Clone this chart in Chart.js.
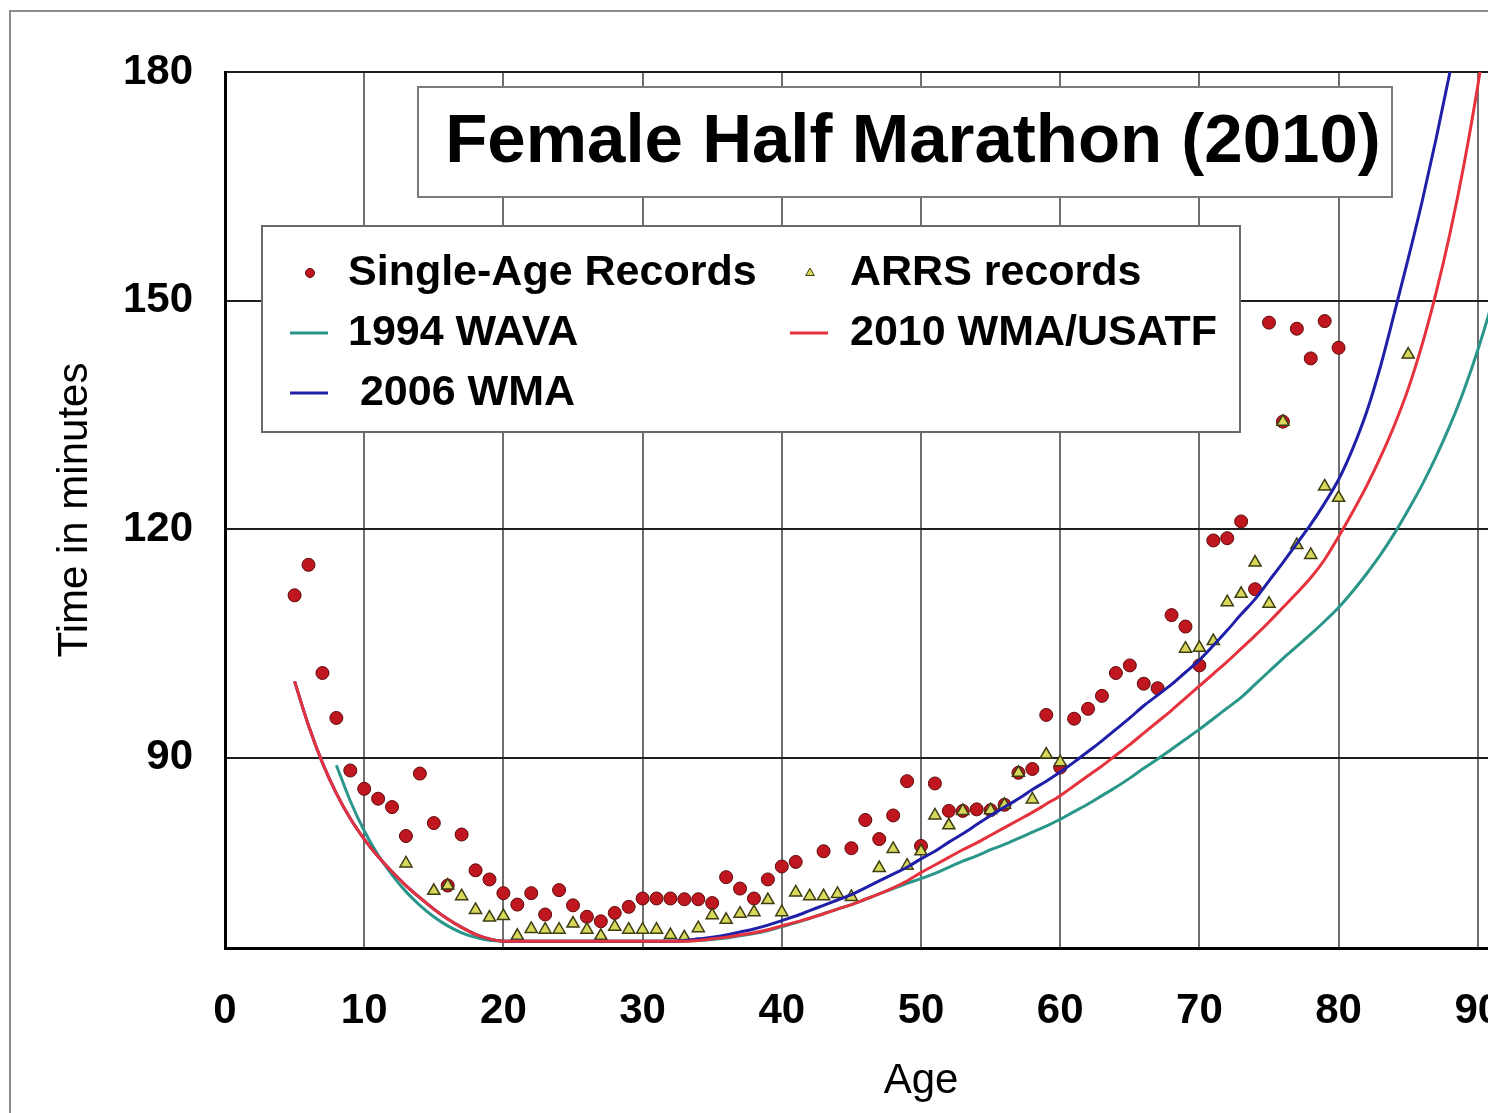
<!DOCTYPE html>
<html>
<head>
<meta charset="utf-8">
<title>Female Half Marathon (2010)</title>
<script src="https://cdn.jsdelivr.net/npm/chart.js@4.4.1/dist/chart.umd.min.js"></script>
<style>
  html, body { margin: 0; padding: 0; overflow: hidden; background: #fff; }
  #wrap { position: relative; width: 1488px; height: 1113px; overflow: hidden; }
  #grafico { position: absolute; left: 0; top: 0; }
  #moldura { position: absolute; left: 9px; top: 10px; width: 1750px; height: 1300px; border: 2px solid #8c8c8c; pointer-events: none; }
</style>
</head>
<body>
<div id="wrap">
  <canvas id="grafico" width="1697" height="1113" style="width:1697px;height:1113px"></canvas>
  <div id="moldura"></div>
</div>
<script>
// ===============================
// DADOS
// ===============================

const titulo = "Female Half Marathon (2010)";
const xTicks = [0, 10, 20, 30, 40, 50, 60, 70, 80, 90, 100];
const yTicks = [90, 120, 150, 180];

// recordes por idade (pontos vermelhos)
const recordAges = [5, 6, 7, 8, 9, 10, 11, 12, 13, 14, 15, 16, 17, 18, 19, 20, 21, 22, 23, 24,
  25, 26, 27, 28, 29, 30, 31, 32, 33, 34, 35, 36, 37, 38, 39, 40, 41, 43, 45, 46,
  47, 48, 49, 50, 51, 52, 53, 54, 55, 56, 57, 58, 59, 60, 61, 62, 63, 64, 65, 66,
  67, 68, 69, 70, 71, 72, 73, 74, 75, 76, 77, 78, 79, 80];
const recordTimes = [111.3, 115.3, 101.1, 95.2, 88.3, 85.9, 84.6, 83.5, 79.7, 87.9, 81.4, 73.2, 79.9, 75.2, 74.0, 72.2, 70.7, 72.2, 69.4, 72.6,
  70.6, 69.1, 68.5, 69.6, 70.4, 71.5, 71.5, 71.5, 71.4, 71.4, 70.9, 74.3, 72.8, 71.5, 74.0, 75.7, 76.3, 77.7, 78.1, 81.8,
  79.3, 82.4, 86.9, 78.4, 86.6, 83.0, 83.0, 83.2, 83.1, 83.8, 88.0, 88.5, 95.6, 88.7, 95.1, 96.4, 98.1, 101.1, 102.1, 99.7,
  99.1, 108.7, 107.2, 102.1, 118.5, 118.8, 121.0, 112.1, 147.1, 134.1, 146.3, 142.4, 147.3, 143.8];

// recordes ARRS (triângulos)
const arrsAges = [13, 15, 16, 17, 18, 19, 20, 21, 22, 23, 24, 25, 26, 27, 28, 29, 30, 31, 32, 33,
  34, 35, 36, 37, 38, 39, 40, 41, 42, 43, 44, 45, 47, 48, 49, 50, 51, 52, 53, 55,
  56, 57, 58, 59, 60, 69, 70, 71, 72, 73, 74, 75, 76, 77, 78, 79, 80, 85];
const arrsTimes = [76.1, 72.5, 73.2, 71.8, 70.0, 69.0, 69.2, 66.6, 67.5, 67.4, 67.4, 68.2, 67.4, 66.6, 67.8, 67.4, 67.4, 67.4, 66.7, 66.4,
  67.6, 69.3, 68.7, 69.5, 69.7, 71.3, 69.7, 72.3, 71.8, 71.8, 72.1, 71.7, 75.5, 78.0, 75.8, 77.7, 82.4, 81.1, 83.0, 83.1,
  83.8, 88.0, 84.5, 90.4, 89.4, 104.3, 104.4, 105.3, 110.4, 111.5, 115.6, 110.2, 134.1, 117.9, 116.6, 125.6, 124.1, 142.9];

// curvas de padrão por idade (5 a 92 anos)
const curveAges = [5, 6, 7, 8, 9, 10, 11, 12, 13, 14, 15, 16, 17, 18, 19, 20,
  21, 22, 23, 24, 25, 26, 27, 28, 29, 30, 31, 32,
  33, 34, 35, 36, 37, 38, 39, 40,
  41, 42, 43, 44, 45, 46, 47, 48, 49, 50,
  51, 52, 53, 54, 55, 56, 57, 58, 59, 60,
  61, 62, 63, 64, 65, 66, 67, 68, 69, 70,
  71, 72, 73, 74, 75, 76, 77, 78, 79, 80,
  81, 82, 83, 84, 85, 86, 87, 88, 89, 90, 91, 92];

const wava1994 = [null, null, null, 89.0, 84.3, 80.4, 77.2, 74.6, 72.4, 70.6, 69.1, 67.9, 67.0, 66.4, 66.0, 65.9,
  65.9, 65.9, 65.9, 65.9, 65.9, 65.9, 65.9, 65.9, 65.9, 65.9, 65.9, 65.9,
  65.9, 66.0, 66.1, 66.3, 66.6, 66.9, 67.3, 67.8,
  68.3, 68.9, 69.5, 70.1, 70.7, 71.4, 72.1, 72.8, 73.5, 74.1,
  74.8, 75.6, 76.4, 77.1, 77.9, 78.6, 79.4, 80.2, 81.0, 81.9,
  82.9, 83.9, 85.0, 86.1, 87.3, 88.6, 89.8, 91.1, 92.4, 93.7,
  95.1, 96.5, 97.9, 99.6, 101.3, 103.0, 104.6, 106.2, 107.9, 109.7,
  111.8, 114.1, 116.6, 119.4, 122.5, 125.8, 129.5, 133.6, 138.2, 143.5, 149.5, 156.0];

const wma2006 = [100.0, 94.2, 89.3, 85.3, 82.0, 79.3, 77.0, 75.0, 73.2, 71.6, 70.1, 68.8, 67.7, 66.8, 66.2, 65.9,
  65.9, 65.9, 65.9, 65.9, 65.9, 65.9, 65.9, 65.9, 65.9, 65.9, 65.9, 65.9,
  66.0, 66.2, 66.4, 66.7, 67.1, 67.5, 68.0, 68.6,
  69.2, 69.9, 70.6, 71.3, 72.0, 72.9, 73.8, 74.7, 75.6, 76.7,
  77.7, 78.9, 80.0, 81.2, 82.4, 83.5, 84.6, 85.8, 86.9, 88.1,
  89.4, 90.8, 92.2, 93.7, 95.2, 96.8, 98.2, 99.6, 101.2, 102.8,
  104.7, 106.7, 108.8, 110.8, 113.2, 115.6, 118.1, 120.6, 123.4, 126.5,
  130.5, 135.3, 141.3, 148.3, 155.5, 163.0, 171.2, 180.0, 189.5, null, null, null];

const wma2010 = [100.0, 94.2, 89.3, 85.3, 82.0, 79.3, 77.0, 75.0, 73.2, 71.6, 70.1, 68.8, 67.7, 66.8, 66.2, 65.9,
  65.9, 65.9, 65.9, 65.9, 65.9, 65.9, 65.9, 65.9, 65.9, 65.9, 65.9, 65.9,
  65.9, 66.0, 66.2, 66.4, 66.7, 67.0, 67.4, 67.9,
  68.4, 68.9, 69.5, 70.1, 70.7, 71.4, 72.1, 72.9, 73.8, 74.9,
  75.9, 76.9, 77.9, 78.8, 79.8, 80.8, 81.8, 82.8, 83.9, 85.0,
  86.3, 87.6, 88.9, 90.3, 91.7, 93.2, 94.7, 96.2, 97.8, 99.4,
  101.0, 102.6, 104.3, 106.0, 107.8, 109.7, 111.6, 113.6, 116.0, 119.0,
  122.2, 125.6, 129.4, 133.6, 138.4, 144.2, 151.0, 158.8, 167.8, 178.2, 190.0, null];

// junta idades e valores em pontos {x, y}
function pts(ages, vals) {
  return ages.map((a, i) => ({ x: a, y: vals[i] }));
}

const fonte = '"Liberation Sans", Arial, sans-serif';

// ===============================
// TÍTULO E LEGENDA EM CAIXAS
// ===============================

const caixas = {
  id: "caixas",
  afterDraw(chart) {
    const ctx = chart.ctx;
    ctx.save();

    // caixa do título
    ctx.fillStyle = "#fff";
    ctx.strokeStyle = "#7a7a7a";
    ctx.lineWidth = 2;
    ctx.fillRect(418, 87, 974, 110);
    ctx.strokeRect(418, 87, 974, 110);
    ctx.fillStyle = "#000";
    ctx.font = "bold 69px " + fonte;
    ctx.textAlign = "center";
    ctx.textBaseline = "middle";
    ctx.fillText(titulo, 913, 143);

    // caixa da legenda
    ctx.fillStyle = "#fff";
    ctx.strokeStyle = "#6a6a6a";
    ctx.fillRect(262, 226, 978, 206);
    ctx.strokeRect(262, 226, 978, 206);

    const lugares = [[0, 0], [1, 0], [0, 1], [1, 1], [0, 2]];
    const colX = [290, 790];
    const textoX = [348, 850];
    const linhaY = [273, 333, 393];

    chart.data.datasets.forEach((ds, i) => {
      const [c, r] = lugares[i];
      const y = linhaY[r];
      if (ds.showLine) {
        ctx.strokeStyle = ds.borderColor;
        ctx.lineWidth = 3;
        ctx.beginPath();
        ctx.moveTo(colX[c], y);
        ctx.lineTo(colX[c] + 38, y);
        ctx.stroke();
      } else {
        ctx.fillStyle = ds.backgroundColor;
        ctx.strokeStyle = ds.borderColor;
        ctx.lineWidth = 1;
        Chart.helpers.drawPoint(ctx, {
          pointStyle: ds.pointStyle,
          radius: ds.pointStyle === "triangle" ? 5 : 4.5,
          rotation: 0,
          borderWidth: 1
        }, colX[c] + 20, y);
      }
      ctx.fillStyle = "#000";
      ctx.font = "bold 43px " + fonte;
      ctx.textAlign = "left";
      ctx.textBaseline = "middle";
      ctx.fillText(ds.label, textoX[c], y);
    });

    ctx.restore();
  }
};

// ===============================
// GRÁFICO
// ===============================

new Chart(document.getElementById("grafico"), {
  type: "scatter",
  data: {
    datasets: [
      {
        label: "Single-Age Records",
        data: pts(recordAges, recordTimes),
        showLine: false,
        pointStyle: "circle",
        pointRadius: 6.5,
        backgroundColor: "#c0161f",
        borderColor: "#5c0a0a",
        borderWidth: 1,
        order: 5
      },
      {
        label: "ARRS records",
        data: pts(arrsAges, arrsTimes),
        showLine: false,
        pointStyle: "triangle",
        pointRadius: 7,
        backgroundColor: "#d8d85c",
        borderColor: "#3d3d12",
        borderWidth: 1.5,
        order: 4
      },
      {
        label: "1994 WAVA",
        data: pts(curveAges, wava1994),
        showLine: true,
        borderColor: "#2a968a",
        backgroundColor: "#2a968a",
        borderWidth: 3,
        pointRadius: 0,
        cubicInterpolationMode: "monotone",
        order: 2
      },
      {
        label: "2010 WMA/USATF",
        data: pts(curveAges, wma2010),
        showLine: true,
        borderColor: "#e5323c",
        backgroundColor: "#e5323c",
        borderWidth: 3,
        pointRadius: 0,
        cubicInterpolationMode: "monotone",
        order: 0
      },
      {
        label: " 2006 WMA",
        data: pts(curveAges, wma2006),
        showLine: true,
        borderColor: "#1f1fa8",
        backgroundColor: "#1f1fa8",
        borderWidth: 3,
        pointRadius: 0,
        cubicInterpolationMode: "monotone",
        order: 1
      }
    ]
  },
  options: {
    responsive: false,
    animation: false,
    events: [],
    layout: { padding: { left: 0, top: 72, right: 80, bottom: 0 } },
    plugins: {
      legend: { display: false },
      tooltip: { enabled: false }
    },
    scales: {
      x: {
        type: "linear",
        min: 0,
        max: 100,
        afterBuildTicks: (s) => { s.ticks = xTicks.map(v => ({ value: v })); },
        afterFit: (s) => { s.height = 165; },
        grid: { color: "#6e6e6e", lineWidth: 2, drawTicks: false },
        border: { color: "#000", width: 3 },
        ticks: {
          autoSkip: false,
          maxRotation: 0,
          padding: 38,
          color: "#000",
          font: { family: fonte, size: 42, weight: "bold" }
        },
        title: {
          display: true,
          text: "Age",
          color: "#000",
          padding: { top: 0, bottom: 6 },
          font: { family: fonte, size: 42 }
        }
      },
      y: {
        type: "linear",
        min: 65,
        max: 180,
        afterBuildTicks: (s) => { s.ticks = yTicks.map(v => ({ value: v })); },
        afterFit: (s) => { s.width = 225; },
        grid: { color: "#1e1e1e", lineWidth: 2, drawTicks: false },
        border: { color: "#000", width: 3 },
        ticks: {
          padding: 32,
          color: "#000",
          font: { family: fonte, size: 42, weight: "bold" }
        },
        title: {
          display: true,
          text: "Time in minutes",
          color: "#000",
          padding: { top: 50, bottom: 0 },
          font: { family: fonte, size: 42 }
        }
      }
    }
  },
  plugins: [caixas]
});
</script>
</body>
</html>
